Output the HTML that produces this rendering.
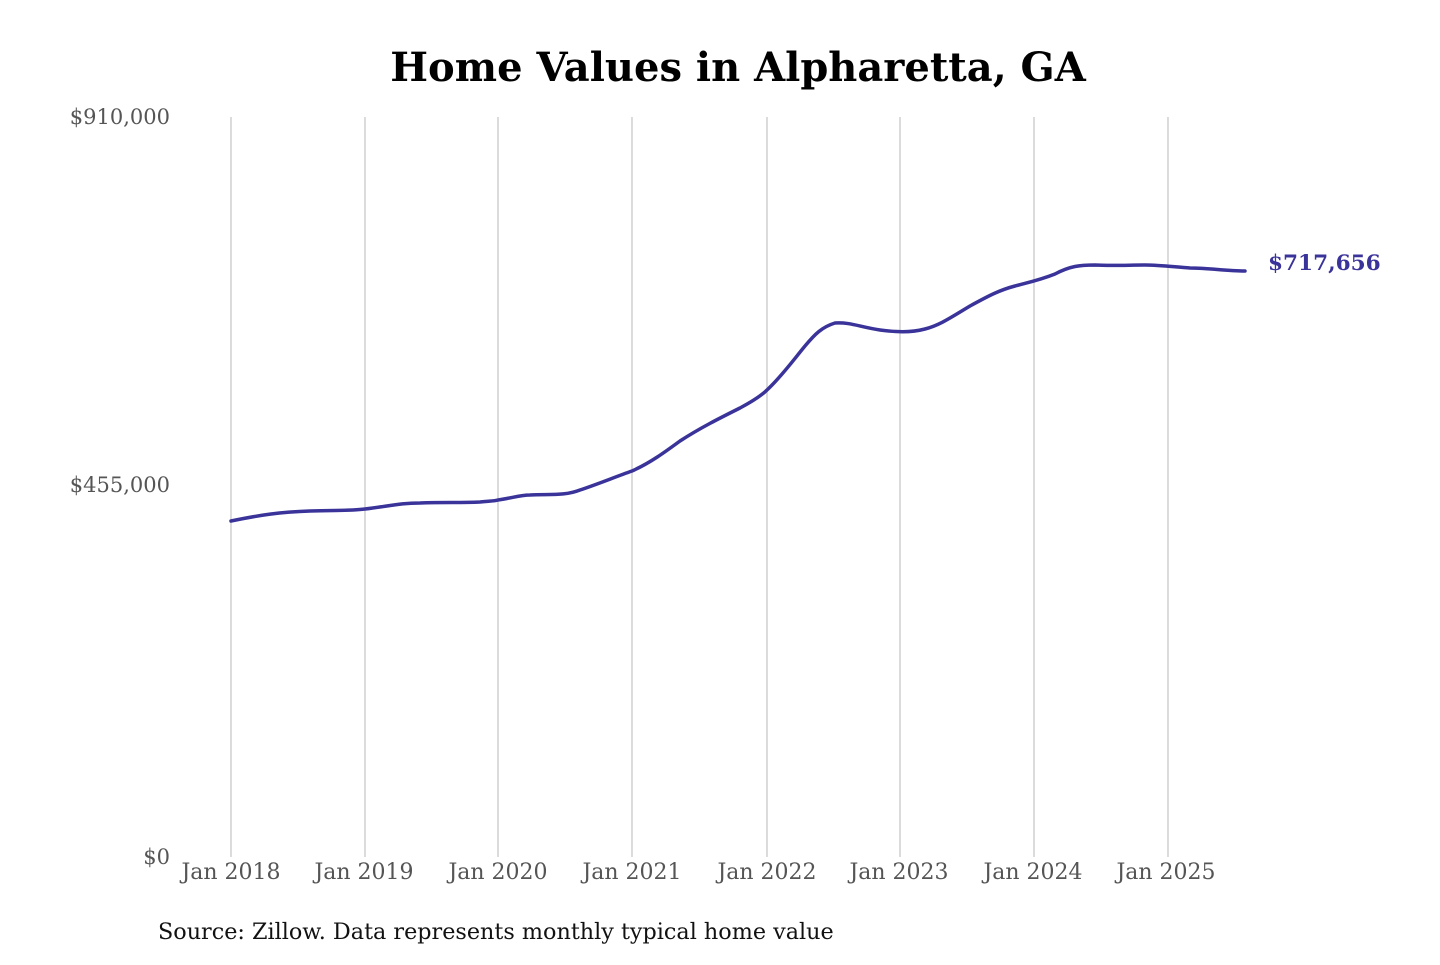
<!DOCTYPE html>
<html><head><meta charset="utf-8"><style>
html,body{margin:0;padding:0;background:#fff;}
body{width:1440px;height:960px;overflow:hidden;}
</style></head><body>
<svg width="1440" height="960" xmlns="http://www.w3.org/2000/svg" font-family="'DejaVu Serif','Liberation Serif',serif">
<rect width="1440" height="960" fill="#fff"/>
<text x="738" y="81" text-anchor="middle" font-size="40" font-weight="bold" fill="#000">Home Values in Alpharetta, GA</text>
<g stroke="#c8c8c8" stroke-width="1.3">
<line x1="231" y1="117" x2="231" y2="857"/>
<line x1="365" y1="117" x2="365" y2="857"/>
<line x1="498" y1="117" x2="498" y2="857"/>
<line x1="632" y1="117" x2="632" y2="857"/>
<line x1="767" y1="117" x2="767" y2="857"/>
<line x1="900" y1="117" x2="900" y2="857"/>
<line x1="1034" y1="117" x2="1034" y2="857"/>
<line x1="1168" y1="117" x2="1168" y2="857"/>
</g>
<g font-size="21" fill="#555">
<text x="170" y="124" text-anchor="end">$910,000</text>
<text x="170" y="492" text-anchor="end">$455,000</text>
<text x="170" y="864" text-anchor="end">$0</text>
</g>
<g font-size="22" fill="#555" text-anchor="middle">
<text x="231" y="879">Jan 2018</text>
<text x="364" y="879">Jan 2019</text>
<text x="498" y="879">Jan 2020</text>
<text x="632" y="879">Jan 2021</text>
<text x="767" y="879">Jan 2022</text>
<text x="899" y="879">Jan 2023</text>
<text x="1033" y="879">Jan 2024</text>
<text x="1166" y="879">Jan 2025</text>
</g>
<path fill="none" stroke="#3a3399" stroke-width="3.5" stroke-linejoin="round" stroke-linecap="round"
d="M231,521 C260,515 280,512 310,511 C335,510 350,511 365,509 C390,506 400,503 420,503 C445,502 460,503 480,502 C490,501 495,501 498,500 C512,498 520,495 530,495 C550,494 565,496 580,490 C598,484 615,477 632,471 C650,463 665,452 680,441 C700,428 720,418 740,408 C755,400 762,395 767,390 C782,376 795,358 805,346 C815,334 822,327 835,323 C850,322 860,327 880,330 C895,332 910,333 925,329 C940,325 950,318 970,306 C990,295 1000,290 1015,286 C1030,282 1040,280 1055,274 C1070,266 1080,265 1095,265 C1110,266 1130,265 1145,265 C1160,265 1175,267 1190,268 C1210,268 1225,271 1245,271"/>
<text x="1268" y="270" font-size="21.6" font-weight="bold" fill="#3a3399">$717,656</text>
<text x="158" y="939" font-size="22.3" fill="#111">Source: Zillow. Data represents monthly typical home value</text>
</svg>
</body></html>
